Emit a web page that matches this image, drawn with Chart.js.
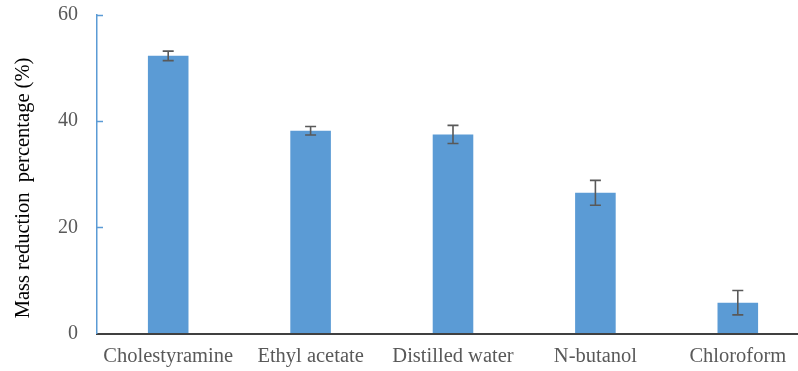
<!DOCTYPE html>
<html>
<head>
<meta charset="utf-8">
<script src="https://cdn.jsdelivr.net/npm/chart.js@4"></script>
<style>
  html, body { margin: 0; padding: 0; background: #fff; }
  body { width: 798px; height: 371px; overflow: hidden; }
  #wrap { width: 812px; height: 371px; }
</style>
</head>
<body>
<div id="wrap"><canvas id="c" width="812" height="371"></canvas></div>
<script>
// Solvents tested and the mean mass reduction with its standard deviation
const solvents = ['Cholestyramine', 'Ethyl acetate', 'Distilled water', 'N-butanol', 'Chloroform'];
const massReduction = [52.3, 38.2, 37.5, 26.5, 5.8];
const stdDev = [0.9, 0.8, 1.7, 2.35, 2.3];
const yTicks = [0, 20, 40, 60];
const yTitle = 'Mass reduction  percentage (%)';

const serif = '"Liberation Serif", "Times New Roman", serif';
const barBlue = '#5b9bd5';

// Whisker lines on top of each bar
const errorBars = {
  id: 'errorBars',
  afterDatasetsDraw(chart) {
    const { ctx, scales: { y } } = chart;
    const meta = chart.getDatasetMeta(0);
    ctx.save();
    ctx.strokeStyle = '#595959';
    ctx.lineWidth = 1.6;
    meta.data.forEach((bar, i) => {
      const v = massReduction[i], e = stdDev[i];
      const yTop = y.getPixelForValue(v + e);
      const yBot = y.getPixelForValue(v - e);
      const x = bar.x;
      const cap = 5.5;
      ctx.beginPath();
      ctx.moveTo(x, yTop); ctx.lineTo(x, yBot);
      ctx.moveTo(x - cap, yTop); ctx.lineTo(x + cap, yTop);
      ctx.moveTo(x - cap, yBot); ctx.lineTo(x + cap, yBot);
      ctx.stroke();
    });
    ctx.restore();
  }
};

// Short tick marks pointing into the plot, plus the rotated axis title
const axisDecor = {
  id: 'axisDecor',
  afterDraw(chart) {
    const { ctx, scales: { y } } = chart;
    ctx.save();
    ctx.strokeStyle = barBlue;
    ctx.lineWidth = 1.5;
    y.ticks.forEach(t => {
      if (t.value === 0) return;
      const py = Math.round(y.getPixelForValue(t.value)) + 0.5;
      ctx.beginPath();
      ctx.moveTo(y.right, py);
      ctx.lineTo(y.right + 6, py);
      ctx.stroke();
    });
    ctx.translate(29, 188);
    ctx.rotate(-Math.PI / 2);
    ctx.fillStyle = '#000';
    ctx.font = '20.5px ' + serif;
    ctx.textAlign = 'center';
    ctx.textBaseline = 'alphabetic';
    ctx.fillText(yTitle, 0, 0);
    ctx.restore();
  }
};

new Chart(document.getElementById('c'), {
  type: 'bar',
  data: {
    labels: solvents,
    datasets: [{
      data: massReduction,
      backgroundColor: barBlue,
      borderWidth: 0,
      barPercentage: 0.285,
      categoryPercentage: 1
    }]
  },
  options: {
    responsive: false,
    devicePixelRatio: 1,
    animation: false,
    layout: { padding: { top: 15, right: 3, left: 0, bottom: 0 } },
    plugins: { legend: { display: false }, tooltip: { enabled: false } },
    scales: {
      x: {
        grid: { display: false, drawTicks: false },
        border: { display: true, color: '#404040', width: 2 },
        ticks: {
          color: '#595959',
          font: { family: serif, size: 20.5 },
          padding: 11,
          maxRotation: 0,
          autoSkip: false
        },
        afterFit(scale) {
          scale.height = 37.5;
          scale.paddingLeft = 0;
          scale.paddingRight = 0;
        }
      },
      y: {
        min: 0,
        max: 60,
        grid: { display: true, drawOnChartArea: false, drawTicks: false },
        border: { display: true, color: barBlue, width: 1.5 },
        ticks: {
          color: '#595959',
          font: { family: serif, size: 20 },
          padding: 19,
          stepSize: 20,
          callback: (v) => yTicks.includes(v) ? String(v) : ''
        },
        afterFit(scale) {
          scale.width = 97;
          scale.paddingTop = 0;
          scale.paddingBottom = 0;
        }
      }
    }
  },
  plugins: [errorBars, axisDecor]
});
</script>
</body>
</html>
